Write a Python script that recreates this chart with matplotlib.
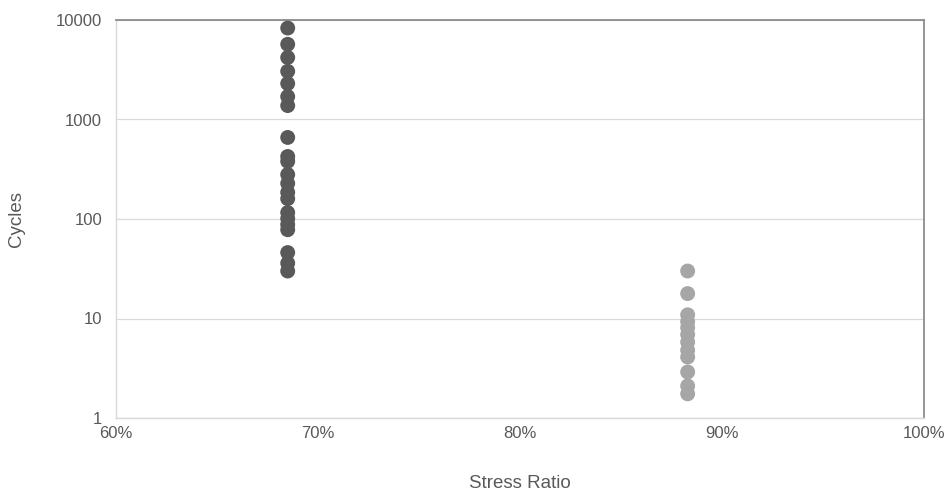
import matplotlib
matplotlib.use("Agg")
import matplotlib.pyplot as plt
from matplotlib.ticker import FuncFormatter, FixedLocator, NullLocator

# Stress ratio (fraction) and cycles to failure for the two load levels
ratio_low = 0.685
cycles_low = [8300, 5700, 4200, 3050, 2300, 1700, 1380, 660, 425, 380,
              280, 228, 185, 160, 116, 101, 88, 78, 46, 36, 30]

ratio_high = 0.883
cycles_high = [30, 17.8, 10.9, 9.3, 8.1, 6.9, 5.8, 4.8, 4.1, 2.9, 2.1, 1.75]

x_ticks = [0.6, 0.7, 0.8, 0.9, 1.0]
y_ticks = [1, 10, 100, 1000, 10000]

plt.rcParams['font.family'] = ['Liberation Sans', 'DejaVu Sans']

fig = plt.figure(figsize=(9.52, 4.94), dpi=100)
ax = fig.add_axes([116 / 952, 1 - 418 / 494, (924 - 116) / 952, (418 - 20) / 494])

ax.scatter([ratio_low] * len(cycles_low), cycles_low, s=115,
           color="#595959", edgecolors="none", zorder=3)
ax.scatter([ratio_high] * len(cycles_high), cycles_high, s=115,
           color="#A6A6A6", edgecolors="none", zorder=3)

ax.set_yscale("log")
ax.set_xlim(0.6, 1.0)
ax.set_ylim(1, 10000)

ax.xaxis.set_major_locator(FixedLocator(x_ticks))
ax.xaxis.set_major_formatter(FuncFormatter(lambda v, p: f"{v * 100:.0f}%"))
ax.yaxis.set_major_locator(FixedLocator(y_ticks))
ax.yaxis.set_minor_locator(NullLocator())
ax.yaxis.set_major_formatter(FuncFormatter(lambda v, p: f"{v:.0f}"))

ax.grid(axis="y", color="#D9D9D9", linewidth=0.9, zorder=0)
ax.tick_params(axis="both", length=0, labelsize=12, colors="#595959")
ax.tick_params(axis="x", pad=6)
ax.tick_params(axis="y", pad=10)

for side in ("left", "bottom"):
    ax.spines[side].set_color("#D9D9D9")
    ax.spines[side].set_linewidth(1.0)
for side in ("top", "right"):
    ax.spines[side].set_color("#8C8C8C")
    ax.spines[side].set_linewidth(1.3)

ax.set_xlabel("Stress Ratio", fontsize=13.5, color="#595959", labelpad=24)
ax.set_ylabel("Cycles", fontsize=13.5, color="#595959", labelpad=22)

fig.savefig("out.png", dpi=100, facecolor="white")
